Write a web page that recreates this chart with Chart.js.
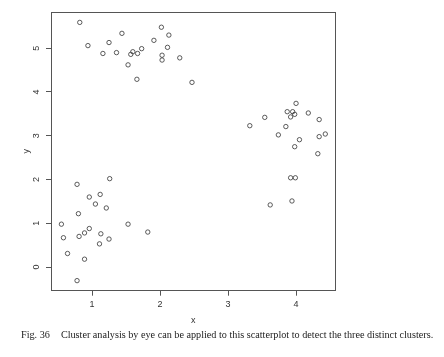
<!DOCTYPE html>
<html>
<head>
<meta charset="utf-8">
<script src="https://cdn.jsdelivr.net/npm/chart.js@4/dist/chart.umd.min.js"></script>
<style>
  html, body { margin: 0; padding: 0; background: #fff; }
  #wrap { position: relative; width: 444px; height: 357px; overflow: hidden; }
  #c { position: absolute; left: 0; top: 0; }
  #caption { position: absolute; left: 21px; top: 329px; white-space: nowrap; line-height: 12px;
    font-family: "Liberation Serif", "Times New Roman", serif; font-size: 10.2px; color: #222; }
  #caption .gap { display: inline-block; width: 11px; }
</style>
</head>
<body>
<div id="wrap">
  <canvas id="c" width="444" height="330"></canvas>
  <div id="caption">Fig. 36<span class="gap"></span>Cluster analysis by eye can be applied to this scatterplot to detect the three distinct clusters.</div>
</div>
<script>
// ---- data ----
const topX    = [0.82, 0.94, 1.44, 1.25, 1.16, 1.36, 1.60, 1.57, 1.67, 1.73, 1.53, 1.66, 2.02, 2.13, 1.91, 2.11, 2.03, 2.03, 2.29, 2.47];
const topY    = [5.59, 5.06, 5.34, 5.13, 4.88, 4.90, 4.92, 4.86, 4.88, 4.99, 4.62, 4.29, 5.48, 5.30, 5.18, 5.02, 4.84, 4.73, 4.78, 4.22];
const rightX  = [4.00, 3.87, 3.95, 3.98, 3.92, 4.18, 4.34, 3.54, 3.32, 3.85, 3.74, 4.05, 3.98, 4.34, 4.43, 4.32, 3.92, 3.99, 3.62, 3.94];
const rightY  = [3.74, 3.55, 3.55, 3.49, 3.43, 3.52, 3.37, 3.42, 3.23, 3.21, 3.02, 2.91, 2.75, 2.98, 3.04, 2.59, 2.04, 2.04, 1.42, 1.51];
const bottomX = [1.26, 0.78, 0.96, 1.12, 1.05, 1.21, 0.80, 0.55, 1.53, 1.82, 0.96, 0.89, 0.81, 0.58, 1.13, 1.25, 1.11, 0.64, 0.89, 0.78];
const bottomY = [2.02, 1.89, 1.60, 1.66, 1.44, 1.35, 1.22, 0.98, 0.98, 0.80, 0.88, 0.78, 0.70, 0.67, 0.76, 0.64, 0.53, 0.31, 0.18, -0.31];
const xTicks = [1, 2, 3, 4];
const yTicks = [0, 1, 2, 3, 4, 5];
const xTitle = 'x';
const yTitle = 'y';

const toPts = (xs, ys) => xs.map((x, i) => ({ x: x, y: ys[i] }));
const points = [].concat(toPts(topX, topY), toPts(rightX, rightY), toPts(bottomX, bottomY));

const boxPlugin = {
  id: 'box',
  afterDraw(chart) {
    const { ctx, chartArea: a } = chart;
    ctx.save();
    ctx.strokeStyle = '#555';
    ctx.lineWidth = 1;
    const l = Math.round(a.left) + 0.5, t = Math.round(a.top) + 0.5;
    const r = Math.round(a.right) - 0.5, b = Math.round(a.bottom) - 0.5;
    ctx.strokeRect(l, t, r - l, b - t);
    ctx.restore();
  }
};

const tickFont = { family: 'Liberation Sans, Arial, sans-serif', size: 9 };

new Chart(document.getElementById('c'), {
  type: 'scatter',
  data: {
    datasets: [{
      data: points,
      pointStyle: 'circle',
      pointRadius: 2.2,
      pointBorderWidth: 0.8,
      pointBorderColor: '#333',
      pointBackgroundColor: 'rgba(0,0,0,0)',
      showLine: false
    }]
  },
  options: {
    responsive: false,
    animation: false,
    devicePixelRatio: 1,
    layout: { padding: { top: 7.5, right: 108.5, left: 0, bottom: 0 } },
    plugins: { legend: { display: false }, tooltip: { enabled: false } },
    scales: {
      x: {
        type: 'linear', min: 0.397, max: 4.58,
        afterBuildTicks: s => { s.ticks = xTicks.map(v => ({ value: v })); },
        afterFit: s => { s.height = 39.3; },
        grid: { display: true, drawOnChartArea: false, drawTicks: true, tickLength: 5, color: '#555' },
        border: { display: false },
        ticks: { font: tickFont, color: '#333', padding: 3, maxRotation: 0, minRotation: 0 },
        title: { display: true, text: xTitle, font: { family: 'Liberation Sans, Arial, sans-serif', size: 9 }, color: '#333', padding: { top: 0, bottom: 4 } }
      },
      y: {
        type: 'linear', min: -0.54, max: 5.83,
        afterBuildTicks: s => { s.ticks = yTicks.map(v => ({ value: v })); },
        afterFit: s => { s.width = 51; },
        grid: { display: true, drawOnChartArea: false, drawTicks: true, tickLength: 5, color: '#555' },
        border: { display: false },
        ticks: { font: tickFont, color: '#333', padding: 6.5, minRotation: 90, maxRotation: 90, crossAlign: 'center' },
        title: { display: true, text: yTitle, font: { family: 'Liberation Sans, Arial, sans-serif', size: 9 }, color: '#333', padding: { top: 21, bottom: 0 } }
      }
    }
  },
  plugins: [boxPlugin]
});
</script>
</body>
</html>
